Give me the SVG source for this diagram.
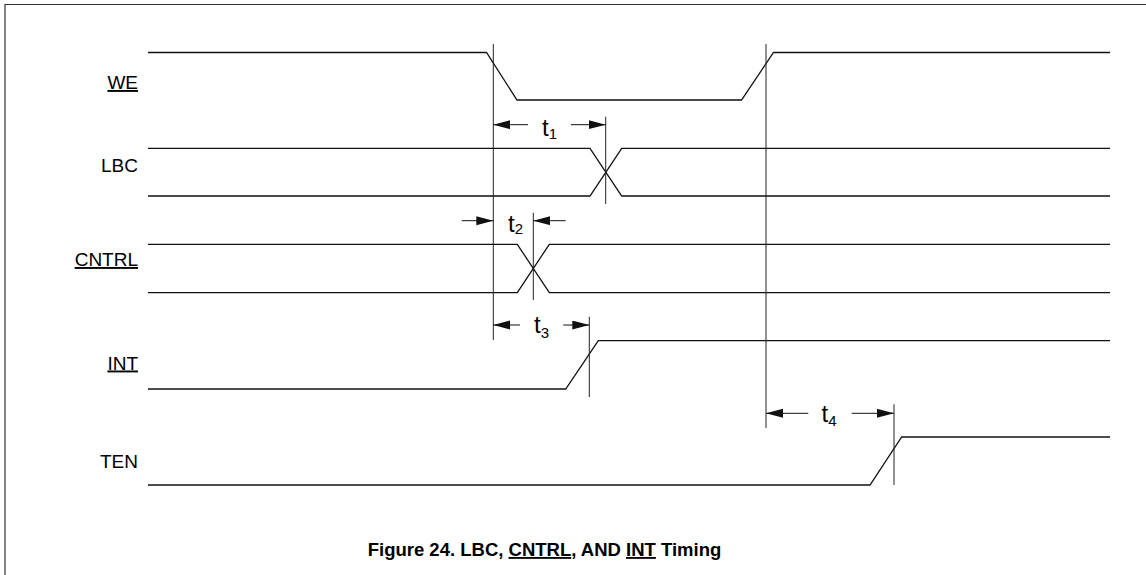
<svg xmlns="http://www.w3.org/2000/svg" width="1146" height="575" viewBox="0 0 1146 575">
<style>
.bg{fill:#fff}
.frame{fill:none;stroke:#333;stroke-width:1.2}
.sig{fill:none;stroke:#111;stroke-width:1.3;stroke-linejoin:miter}
.mark{fill:none;stroke:#222;stroke-width:1}
.dim{fill:none;stroke:#111;stroke-width:1}
.lbl{font-family:"Liberation Sans",Arial,sans-serif;font-size:19px;fill:#000;text-anchor:end}
.ul{text-decoration:underline}
.tl{font-family:"Liberation Sans",Arial,sans-serif;font-size:24px;fill:#000}
.sub{font-size:15px}
.cap{font-family:"Liberation Sans",Arial,sans-serif;font-size:18.5px;font-weight:bold;fill:#000;text-anchor:middle}
</style>
<defs>
<marker id="ah" markerUnits="userSpaceOnUse" markerWidth="18" markerHeight="10" refX="17" refY="4.5" orient="auto">
<path d="M0,0 L17,4.5 L0,9 Z" fill="#111"/>
</marker>
</defs>
<rect class="bg" x="0" y="0" width="1146" height="575"/>
<path class="frame" d="M5,575 V4.5 H1146"/>

<g id="sig-we">
<text class="lbl ul" x="138" y="89">WE</text>
<path class="sig" d="M148,52.5 H486.5 L517,100 H741.5 L773.5,52.5 H1110"/>
</g>
<g id="sig-lbc">
<text class="lbl" x="138" y="172">LBC</text>
<path class="sig" d="M148,148.3 H590 L621.7,196 H1110"/>
<path class="sig" d="M148,196 H590 L621.7,148.3 H1110"/>
</g>
<g id="sig-cntrl">
<text class="lbl ul" x="138" y="266">CNTRL</text>
<path class="sig" d="M148,244.3 H517.3 L549.3,292.7 H1110"/>
<path class="sig" d="M148,292.7 H517.3 L549.3,244.3 H1110"/>
</g>
<g id="sig-int">
<text class="lbl ul" x="138" y="369.5">INT</text>
<path class="sig" d="M148,389 H565.7 L598.3,340.7 H1110"/>
</g>
<g id="sig-ten">
<text class="lbl" x="138" y="467.5">TEN</text>
<path class="sig" d="M148,485 H870 L901.7,437 H1110"/>
</g>

<g id="connectors">
<line class="mark" x1="493.3" y1="44" x2="493.3" y2="340"/>
<line class="mark" x1="766" y1="44" x2="766" y2="428"/>
<line class="mark" x1="605.7" y1="116.7" x2="605.7" y2="204"/>
<line class="mark" x1="533.3" y1="212.7" x2="533.3" y2="300"/>
<line class="mark" x1="589.3" y1="316.7" x2="589.3" y2="397"/>
<line class="mark" x1="894" y1="404.3" x2="894" y2="485"/>

<line class="dim" x1="528" y1="124.7" x2="493.3" y2="124.7" marker-end="url(#ah)"/>
<line class="dim" x1="571" y1="124.7" x2="605.7" y2="124.7" marker-end="url(#ah)"/>
<line class="dim" x1="461.7" y1="220.7" x2="493.3" y2="220.7" marker-end="url(#ah)"/>
<line class="dim" x1="565.7" y1="220.7" x2="533.3" y2="220.7" marker-end="url(#ah)"/>
<line class="dim" x1="520" y1="325" x2="493.3" y2="325" marker-end="url(#ah)"/>
<line class="dim" x1="563.3" y1="325" x2="589.3" y2="325" marker-end="url(#ah)"/>
<line class="dim" x1="808.3" y1="413.3" x2="766" y2="413.3" marker-end="url(#ah)"/>
<line class="dim" x1="851.7" y1="413.3" x2="894" y2="413.3" marker-end="url(#ah)"/>
</g>

<g id="timing-labels">
<text class="tl" x="542" y="136">t<tspan class="sub" dy="2.5">1</tspan></text>
<text class="tl" x="508" y="231.5">t<tspan class="sub" dy="2">2</tspan></text>
<text class="tl" x="534" y="333">t<tspan class="sub" dy="4.5">3</tspan></text>
<text class="tl" x="821.5" y="421.7">t<tspan class="sub" dy="4">4</tspan></text>
</g>

<text class="cap" x="544.5" y="556">Figure 24. LBC, <tspan class="ul">CNTRL</tspan>, AND <tspan class="ul">INT</tspan> Timing</text>
</svg>
